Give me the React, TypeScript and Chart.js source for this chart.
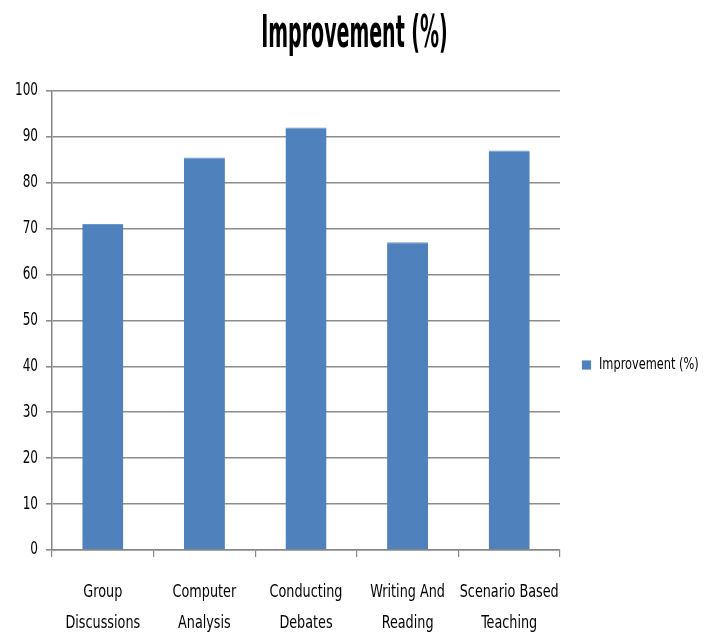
import React, { useEffect, useRef } from "react";
import { Chart, registerables } from "chart.js";

Chart.register(...registerables);

const categories: string[][] = [
  ["Group", "Discussions"],
  ["Computer", "Analysis"],
  ["Conducting", "Debates"],
  ["Writing And", "Reading"],
  ["Scenario Based", "Teaching"],
];
const improvement: number[] = [71, 85.5, 92, 67, 87];
const yTicks: number[] = [0, 10, 20, 30, 40, 50, 60, 70, 80, 90, 100];
const seriesName = "Improvement (%)";
const titleText = "Improvement (%)";

const FONT = "'DejaVu Sans Condensed', 'Liberation Sans', sans-serif";

export default function App() {
  const ref = useRef<HTMLCanvasElement | null>(null);
  useEffect(() => {
    document.body.style.margin = "0";
    const ctx = ref.current!.getContext("2d")!;
    // narrow the drawn text horizontally, like the reference's condensed lettering
    const origFill = ctx.fillText.bind(ctx);
    (ctx as any).fillText = (text: string, x: number, y: number, maxWidth?: number) => {
      const w = ctx.measureText(text).width;
      const m = /(\d+(?:\.\d+)?)px/.exec(ctx.font);
      const size = m ? parseFloat(m[1]) : 12;
      const f = size >= 30 ? 0.48 : 0.79;
      const mw = maxWidth === undefined || maxWidth === null ? w * f : Math.min(maxWidth, w * f);
      origFill(text, x, y, mw);
    };
    const chart = new Chart(ctx, {
      type: "bar",
      data: {
        labels: categories,
        datasets: [
          {
            label: seriesName,
            data: improvement,
            backgroundColor: "#4F81BD",
            borderColor: "#6A95C9",
            borderWidth: { top: 1, left: 0, right: 0, bottom: 0 } as any,
            barPercentage: 0.404,
            categoryPercentage: 1,
          },
        ],
      },
      options: {
        animation: false,
        responsive: false,
        maintainAspectRatio: false,
        layout: { padding: { left: 0, right: 1, top: 5, bottom: 0 } },
        plugins: {
          title: {
            display: true,
            text: titleText,
            color: "#000",
            font: { family: FONT, size: 44, weight: "bold" },
            padding: { top: 4, bottom: 29 },
          },
          legend: {
            position: "right",
            maxWidth: 139,
            title: {
              display: true,
              text: " ",
              font: { size: 10 },
              padding: { top: 40, bottom: 38 },
            },
            labels: {
              boxWidth: 9,
              boxHeight: 9,
              color: "#000",
              font: { family: FONT, size: 16 },
              padding: 12,
            },
          },
          tooltip: { enabled: false },
        },
        scales: {
          x: {
            offset: true,
            afterFit: (s: any) => {
              s.height = 85;
            },
            grid: {
              offset: true,
              drawOnChartArea: false,
              drawTicks: true,
              tickLength: 7,
              color: "#868686",
              lineWidth: 1.2,
            },
            border: { color: "#868686", width: 1.5 },
            ticks: {
              color: "#000",
              font: { family: FONT, size: 18, lineHeight: 1.72 },
              padding: 19.5,
              maxRotation: 0,
              autoSkip: false,
            },
          },
          y: {
            min: 0,
            max: 100,
            afterFit: (s: any) => {
              s.width = 52;
            },
            afterBuildTicks: (axis: any) => {
              axis.ticks = yTicks.map((v) => ({ value: v }));
            },
            grid: {
              color: "#8c8c8c",
              lineWidth: 1.6,
              tickLength: 6,
            },
            border: { color: "#868686", width: 1.5 },
            ticks: {
              color: "#000",
              font: { family: FONT, size: 17 },
              padding: 8,
            },
          },
          gap: {
            type: "linear",
            position: "right",
            display: true,
            afterFit: (s: any) => {
              s.width = 10;
            },
            grid: { display: false },
            border: { display: false },
            ticks: { display: false },
          },
        },
      },
    });
    return () => chart.destroy();
  }, []);
  return <canvas ref={ref} width={710} height={635} style={{ display: "block" }} />;
}
